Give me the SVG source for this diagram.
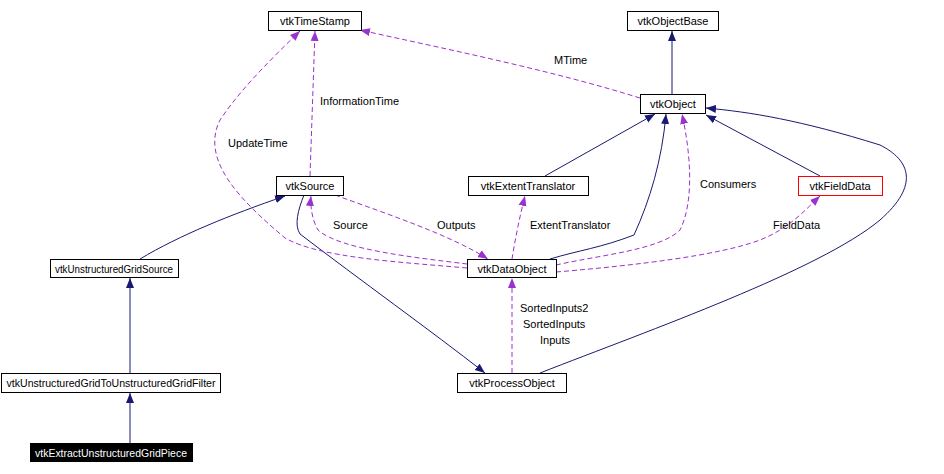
<svg xmlns="http://www.w3.org/2000/svg" width="944" height="474" viewBox="0 0 944 474">
<style>
text{font-family:"Liberation Sans",Arial,sans-serif;font-size:11px;fill:#000}
.n rect{fill:#fff;stroke:#000;stroke-width:1}
.n text{text-anchor:middle}
.s{fill:none;stroke:#191970;stroke-width:1}
.d{fill:none;stroke:#9a32cd;stroke-width:1;stroke-dasharray:5,3}
</style>
<defs>
<marker id="ab" viewBox="0 0 10 10" refX="10" refY="5" markerWidth="10" markerHeight="10" orient="auto" markerUnits="userSpaceOnUse"><path d="M0,1 L10,5 L0,9 z" fill="#191970"/></marker>
<marker id="ap" viewBox="0 0 10 10" refX="10" refY="5" markerWidth="10" markerHeight="10" orient="auto" markerUnits="userSpaceOnUse"><path d="M0,1 L10,5 L0,9 z" fill="#9a32cd"/></marker>
</defs>
<rect width="944" height="474" fill="#fff"/>
<g id="edges">
<path class="s" marker-end="url(#ab)" d="M672,94 L672,31"/>
<path class="s" marker-end="url(#ab)" d="M545,176 L655,114"/>
<path class="s" marker-end="url(#ab)" d="M550,259 C580,250 600,248 634,235 C650,200 662,160 666,114"/>
<path class="s" marker-end="url(#ab)" d="M820,176 L706,115"/>
<path class="s" marker-end="url(#ab)" d="M540,373 C650,330 820,270 880,220 C920,185 910,160 880,145 C800,120 750,112 706,108"/>
<path class="s" marker-end="url(#ab)" d="M140,259 C180,235 230,215 285,196"/>
<path class="s" marker-end="url(#ab)" d="M130,373 L130,278"/>
<path class="s" marker-end="url(#ab)" d="M130,443 L130,393"/>
<path class="s" marker-end="url(#ab)" d="M304,195 C298,210 294,225 300,234 C360,280 430,330 485,373"/>
<path class="d" marker-end="url(#ap)" d="M640,98 C550,70 450,50 360,30"/>
<path class="d" marker-end="url(#ap)" d="M310,176 L315,31"/>
<path class="d" marker-end="url(#ap)" d="M467,268 C400,262 320,258 285,238 C240,200 200,160 220,120 C240,90 270,60 300,31"/>
<path class="d" marker-end="url(#ap)" d="M467,264 C420,258 340,250 318,230 C312,220 310,205 311,196"/>
<path class="d" marker-end="url(#ap)" d="M335,195 C390,215 450,235 488,259"/>
<path class="d" marker-end="url(#ap)" d="M512,259 C515,240 520,215 525,196"/>
<path class="d" marker-end="url(#ap)" d="M556,265 C600,255 660,250 680,230 C695,200 690,150 682,114"/>
<path class="d" marker-end="url(#ap)" d="M556,272 C640,265 720,255 760,240 C790,228 805,210 820,196"/>
<path class="d" marker-end="url(#ap)" d="M512,373 L512,278"/>
</g>
<g id="labels">
<text x="554" y="64">MTime</text>
<text x="320" y="105">InformationTime</text>
<text x="228" y="147">UpdateTime</text>
<text x="333" y="229">Source</text>
<text x="437" y="229">Outputs</text>
<text x="530" y="229">ExtentTranslator</text>
<text x="700" y="188">Consumers</text>
<text x="773" y="229">FieldData</text>
<text x="520" y="312">SortedInputs2</text>
<text x="523" y="328">SortedInputs</text>
<text x="540" y="344">Inputs</text>
</g>
<g id="vtkTimeStamp" class="n"><rect x="268.5" y="11.5" width="93" height="19"/><text x="315" y="25">vtkTimeStamp</text></g>
<g id="vtkObjectBase" class="n"><rect x="627.5" y="11.5" width="91" height="19"/><text x="673" y="25">vtkObjectBase</text></g>
<g id="vtkObject" class="n"><rect x="640.5" y="94.5" width="65" height="19"/><text x="673" y="108">vtkObject</text></g>
<g id="vtkSource" class="n"><rect x="276.5" y="176.5" width="67" height="19"/><text x="310" y="190">vtkSource</text></g>
<g id="vtkExtentTranslator" class="n"><rect x="468.5" y="176.5" width="120" height="19"/><text x="528" y="190">vtkExtentTranslator</text></g>
<g id="vtkFieldData" class="n"><rect x="798.5" y="176.5" width="84" height="19" style="stroke:#f00"/><text x="840" y="190">vtkFieldData</text></g>
<g id="vtkUnstructuredGridSource" class="n"><rect x="50.5" y="259.5" width="128" height="18"/><text x="114" y="273" textLength="118" lengthAdjust="spacingAndGlyphs">vtkUnstructuredGridSource</text></g>
<g id="vtkDataObject" class="n"><rect x="467.5" y="259.5" width="89" height="18"/><text x="512" y="273">vtkDataObject</text></g>
<g id="vtkUnstructuredGridToUnstructuredGridFilter" class="n"><rect x="1.5" y="373.5" width="219" height="19"/><text x="111" y="387" textLength="209" lengthAdjust="spacingAndGlyphs">vtkUnstructuredGridToUnstructuredGridFilter</text></g>
<g id="vtkProcessObject" class="n"><rect x="457.5" y="373.5" width="109" height="19"/><text x="512" y="387">vtkProcessObject</text></g>
<g id="vtkExtractUnstructuredGridPiece" class="n"><rect x="30.5" y="443.5" width="162" height="18" style="fill:#000"/><text x="111" y="457" textLength="152" lengthAdjust="spacingAndGlyphs" style="fill:#fff">vtkExtractUnstructuredGridPiece</text></g>
</svg>
